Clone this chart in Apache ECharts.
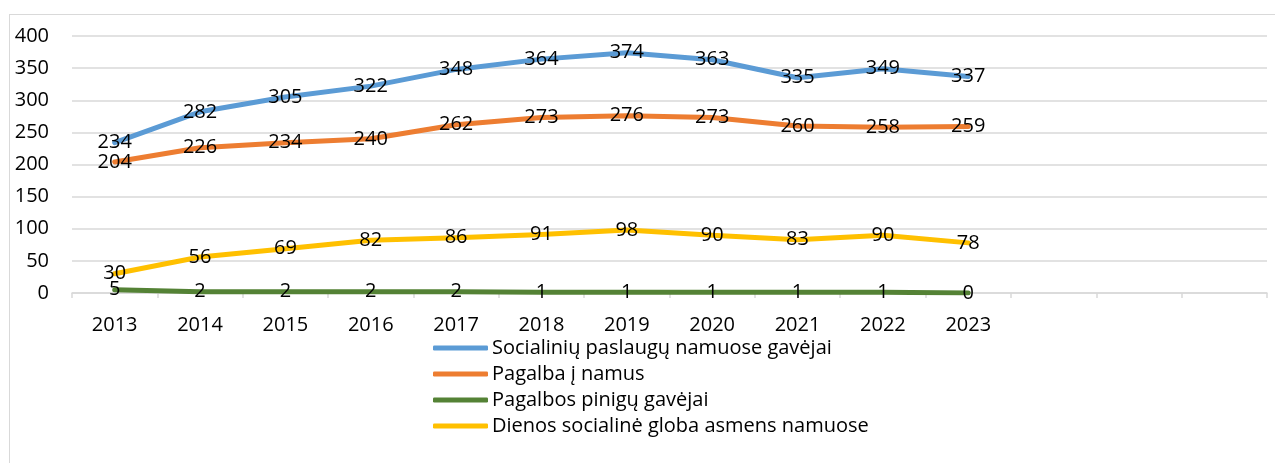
<!DOCTYPE html>
<html>
<head>
<meta charset="utf-8">
<script src="https://cdn.jsdelivr.net/npm/echarts@6/dist/echarts.min.js"></script>
<style>
    html, body { margin: 0; padding: 0; background: #fff; overflow: hidden; }
    #frame { position: absolute; left: 9px; top: 14px; width: 1300px; height: 480px; border: 1px solid #d9d9d9; }
    #chart { position: absolute; left: 0; top: 0; width: 1275px; height: 463px; }
</style>
</head>
<body>
<div id="frame"></div>
<div id="chart"></div>
<script>
    // metai (3 tusti stulpeliai gale kaip originale)
    var years = ['2013', '2014', '2015', '2016', '2017', '2018', '2019', '2020', '2021', '2022', '2023', '', '', ''];
    var namuoseGavejai = [234, 282, 305, 322, 348, 364, 374, 363, 335, 349, 337];
    var pagalbaINamus = [204, 226, 234, 240, 262, 273, 276, 273, 260, 258, 259];
    var pinigoGavejai = [5, 2, 2, 2, 2, 1, 1, 1, 1, 1, 0];
    var dienosGloba = [30, 56, 69, 82, 86, 91, 98, 90, 83, 90, 78];
    var yTicks = {min: 0, max: 400, interval: 50};

    var font = 'Open Sans';

    function mkSeries(name, data, color) {
        return {
            name: name,
            type: 'line',
            data: data,
            symbol: 'circle',
            symbolSize: 0,
            showSymbol: true,
            lineStyle: {color: color, width: 5, cap: 'round', join: 'round'},
            itemStyle: {color: color},
            label: {
                show: true,
                position: 'inside',
                color: '#000',
                fontFamily: font,
                fontSize: 20
            },
            emphasis: {disabled: true}
        };
    }

    var myChart = echarts.init(document.getElementById('chart'));
    var option = {
        animation: false,
        grid: {left: 72, right: 8, top: 36, bottom: 170},
        legend: {
            orient: 'vertical',
            left: 433,
            top: 338,
            padding: 0,
            icon: 'roundRect',
            itemWidth: 55,
            itemHeight: 5,
            itemGap: 6,
            textStyle: {fontFamily: font, fontSize: 20, color: '#000', lineHeight: 20, padding: [0, 0, 0, -1]},
            data: ['Socialinių paslaugų namuose gavėjai', 'Pagalba į namus', 'Pagalbos pinigų gavėjai', 'Dienos socialinė globa asmens namuose']
        },
        xAxis: {
            type: 'category',
            data: years,
            boundaryGap: true,
            axisLine: {lineStyle: {color: '#d9d9d9', width: 1.5}},
            axisTick: {show: true, length: 5, lineStyle: {color: '#d9d9d9', width: 1.5}},
            axisLabel: {color: '#000', fontFamily: font, fontSize: 20, margin: 22, interval: 0}
        },
        yAxis: {
            type: 'value',
            min: yTicks.min,
            max: yTicks.max,
            interval: yTicks.interval,
            axisLine: {show: false},
            axisTick: {show: false},
            splitLine: {lineStyle: {color: '#d9d9d9', width: 1.5}},
            axisLabel: {color: '#000', fontFamily: font, fontSize: 20, margin: 23}
        },
        series: [
            mkSeries('Pagalbos pinigų gavėjai', pinigoGavejai, '#548235'),
            mkSeries('Dienos socialinė globa asmens namuose', dienosGloba, '#FFC000'),
            mkSeries('Pagalba į namus', pagalbaINamus, '#ED7D31'),
            mkSeries('Socialinių paslaugų namuose gavėjai', namuoseGavejai, '#5B9BD5')
        ]
    };
    myChart.setOption(option);
</script>
</body>
</html>
